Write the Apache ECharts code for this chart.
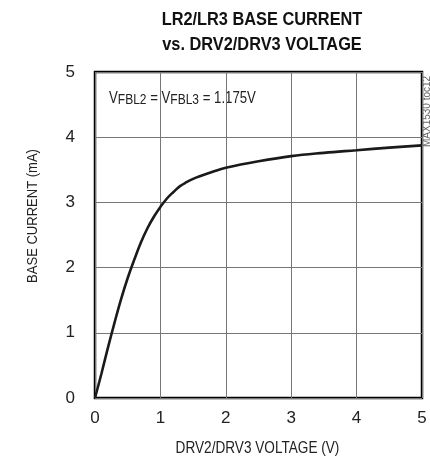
<!DOCTYPE html>
<html>
<head>
<meta charset="utf-8">
<script src="https://cdn.jsdelivr.net/npm/echarts@6/dist/echarts.min.js"></script>
<style>
  html, body { margin: 0; padding: 0; background: #fff; }
  #chart { width: 430px; height: 457px; }
</style>
</head>
<body>
<div id="chart"></div>
<script>
// values
const voltage = [0, 0.1, 0.2, 0.3, 0.4, 0.5, 0.6, 0.7, 0.8, 0.9, 1.0, 1.1, 1.2, 1.3, 1.4, 1.5, 1.6, 1.8, 2.0, 2.5, 3.0, 3.5, 4.0, 4.5, 5.0];
const baseCurrent = [0, 0.38, 0.78, 1.16, 1.52, 1.84, 2.12, 2.38, 2.6, 2.78, 2.93, 3.06, 3.16, 3.25, 3.31, 3.36, 3.40, 3.47, 3.53, 3.63, 3.71, 3.76, 3.80, 3.84, 3.875];
const xTicks = [0, 1, 2, 3, 4, 5];
const yTicks = [0, 1, 2, 3, 4, 5];

const font = '"Liberation Sans", Arial, sans-serif';
const ink = '#222';

const chart = echarts.init(document.getElementById('chart'));
chart.setOption({
  animation: false,
  backgroundColor: '#fff',
  grid: {
    left: 95, right: 8, top: 72, bottom: 59,
    show: true, borderColor: '#000', borderWidth: 2.5
  },
  xAxis: {
    type: 'value',
    min: xTicks[0], max: xTicks[xTicks.length - 1], interval: 1,
    axisLine: { show: false },
    axisTick: { show: false },
    axisLabel: { margin: 12, fontFamily: font, fontSize: 17, color: ink },
    splitLine: { show: true, lineStyle: { color: '#777', width: 1 } }
  },
  yAxis: {
    type: 'value',
    min: yTicks[0], max: yTicks[yTicks.length - 1], interval: 1,
    axisLine: { show: false },
    axisTick: { show: false },
    axisLabel: { margin: 20, fontFamily: font, fontSize: 17, color: ink },
    splitLine: { show: true, lineStyle: { color: '#777', width: 1 } }
  },
  series: [{
    type: 'line',
    data: voltage.map((v, i) => [v, baseCurrent[i]]),
    smooth: 0.4,
    showSymbol: false,
    lineStyle: { color: '#1a1a1a', width: 2.6 },
    z: 5
  }],
  graphic: [
    // title, condensed by squeezing horizontally
    {
      type: 'text', x: 262, y: 20, scaleX: 0.86,
      style: { text: 'LR2/LR3 BASE CURRENT', fontFamily: font, fontWeight: 'bold', fontSize: 19, fill: '#111', align: 'center', verticalAlign: 'middle' }
    },
    {
      type: 'text', x: 262, y: 44.5, scaleX: 0.86,
      style: { text: 'vs. DRV2/DRV3 VOLTAGE', fontFamily: font, fontWeight: 'bold', fontSize: 19, fill: '#111', align: 'center', verticalAlign: 'middle' }
    },
    // axis names
    {
      type: 'text', x: 257.5, y: 448, scaleX: 0.8,
      style: { text: 'DRV2/DRV3 VOLTAGE (V)', fontFamily: font, fontSize: 17, fill: ink, align: 'center', verticalAlign: 'middle' }
    },
    {
      type: 'text', x: 33, y: 216, rotation: Math.PI / 2, scaleX: 0.84,
      style: { text: 'BASE CURRENT (mA)', fontFamily: font, fontSize: 15.5, fill: ink, align: 'center', verticalAlign: 'middle' }
    },
    // condition note
    {
      type: 'text', x: 109, y: 88, scaleX: 0.8,
      style: {
        text: '{m|V}{s|FBL2}{m| = V}{s|FBL3}{m| = 1.175V}',
        fill: ink,
        rich: {
          m: { fontFamily: font, fontSize: 16.5, fill: ink, verticalAlign: 'bottom', lineHeight: 19 },
          s: { fontFamily: font, fontSize: 15, fill: ink, verticalAlign: 'bottom', lineHeight: 12 }
        }
      }
    },
    {
      type: 'text', x: 427, y: 147, rotation: Math.PI / 2,
      style: { text: 'MAX1530 toc12', fontFamily: font, fontSize: 10, fill: '#666', align: 'left', verticalAlign: 'middle' }
    }
  ]
});
</script>
</body>
</html>
